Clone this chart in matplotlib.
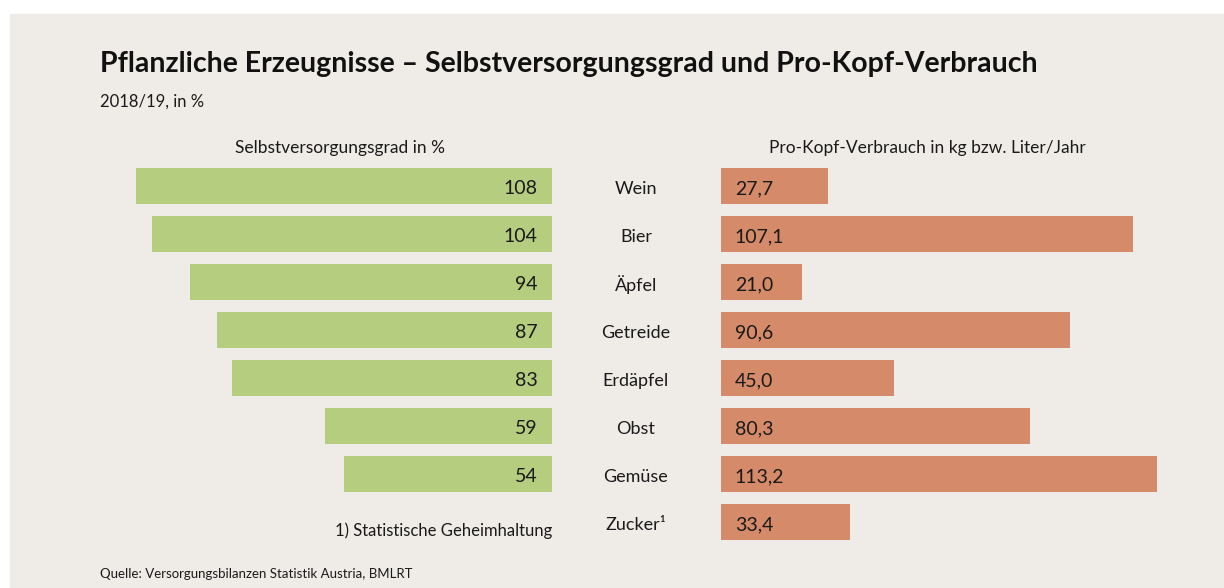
"""Pflanzliche Erzeugnisse: Selbstversorgungsgrad und Pro-Kopf-Verbrauch (2018/19)."""
import matplotlib.pyplot as plt
import numpy as np

plt.rcParams["font.family"] = ["Lato", "DejaVu Sans"]

# Data
categories = ["Wein", "Bier", "Äpfel", "Getreide", "Erdäpfel", "Obst", "Gemüse", "Zucker¹"]
selbstversorgung = [108, 104, 94, 87, 83, 59, 54, None]  # Zucker: statistische Geheimhaltung
verbrauch = [27.7, 107.1, 21.0, 90.6, 45.0, 80.3, 113.2, 33.4]

GREEN = "#b5cd7e"
ORANGE = "#d58b69"
BG = "#efece8"
TEXT = "#1a1a1a"

W, H = 1224, 588
fig = plt.figure(figsize=(W / 100, H / 100), dpi=100, facecolor="white")

# beige panel
fig.patches.append(plt.Rectangle((10 / W, 0), 1 - 10 / W, 1 - 14 / H,
                                 transform=fig.transFigure, color=BG, zorder=-10))

px_per_unit = 3.85
ax_bottom = 1 - 546 / H
ax_height = 384 / H

ax_l = fig.add_axes([100 / W, ax_bottom, 452 / W, ax_height])
ax_r = fig.add_axes([721 / W, ax_bottom, 479 / W, ax_height])

y = np.arange(len(categories))
bar_h = 0.73

left_y = [i for i, v in enumerate(selbstversorgung) if v is not None]
left_v = [v for v in selbstversorgung if v is not None]
ax_l.barh(left_y, left_v, height=bar_h, color=GREEN)
ax_l.set_xlim(452 / px_per_unit, 0)
for i, v in zip(left_y, left_v):
    ax_l.text(3.7, i + 0.05, f"{v}", ha="right", va="center", fontsize=14, color=TEXT)

ax_r.barh(y, verbrauch, height=bar_h, color=ORANGE)
ax_r.set_xlim(0, 479 / px_per_unit)
for i, v in enumerate(verbrauch):
    ax_r.text(3.6, i + 0.05, f"{v:.1f}".replace(".", ","), ha="left", va="center",
              fontsize=14, color=TEXT)

for ax in (ax_l, ax_r):
    ax.set_ylim(len(categories) - 0.5, -0.5)
    ax.axis("off")

# category labels in the middle
for i, c in enumerate(categories):
    fy = 1 - (189 + 48 * i) / H
    fig.text(636 / W, fy, c, ha="center", va="center", fontsize=13, color=TEXT)

fig.text(552 / W, 1 - 531 / H, "1) Statistische Geheimhaltung", ha="right", va="center",
         fontsize=12, color=TEXT)

# headers
fig.text(340 / W, 1 - 148 / H, "Selbstversorgungsgrad in %", ha="center", va="center",
         fontsize=12.5, color=TEXT)
fig.text(927 / W, 1 - 148 / H, "Pro-Kopf-Verbrauch in kg bzw. Liter/Jahr", ha="center",
         va="center", fontsize=12.5, color=TEXT)

# title, subtitle, source
fig.text(100 / W, 1 - 64 / H, "Pflanzliche Erzeugnisse – Selbstversorgungsgrad und Pro-Kopf-Verbrauch",
         ha="left", va="center", fontsize=20.5, fontweight="bold", color="#111111")
fig.text(100 / W, 1 - 102 / H, "2018/19, in %", ha="left", va="center", fontsize=12, color=TEXT)
fig.text(100 / W, 1 - 574 / H, "Quelle: Versorgungsbilanzen Statistik Austria, BMLRT",
         ha="left", va="center", fontsize=9.5, color=TEXT)

fig.savefig("out.png", dpi=100, facecolor="white")
